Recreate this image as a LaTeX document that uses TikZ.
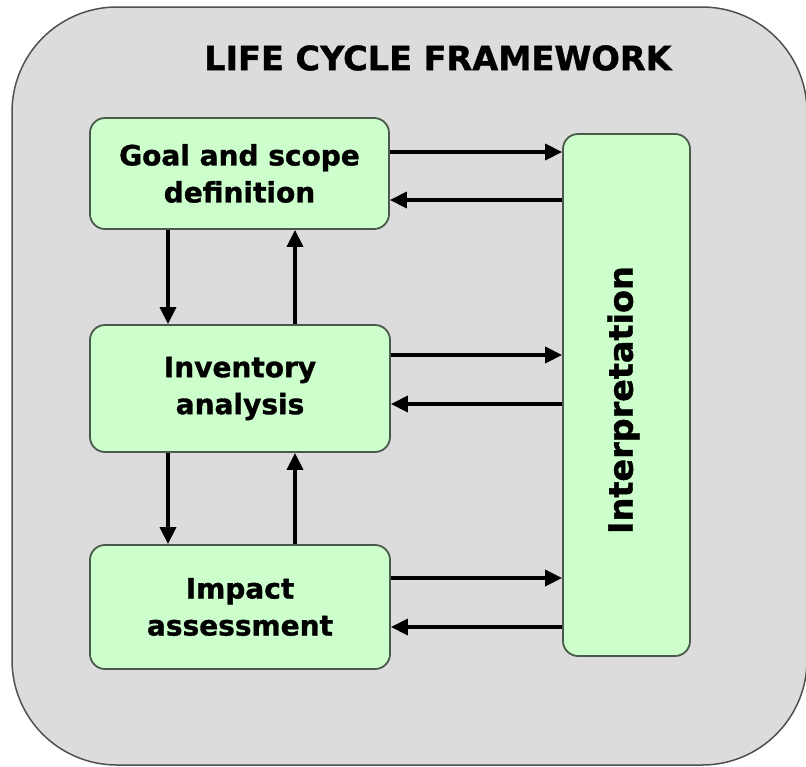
\documentclass[tikz,border=0pt]{standalone}
\usepackage{fontspec}
\setmainfont[BoldFeatures={FakeBold=1.2}]{DejaVu Sans}
\usetikzlibrary{arrows.meta}
\definecolor{bgray}{HTML}{DCDCDC}
\definecolor{lgreen}{HTML}{CCFFCC}
\definecolor{edgegreen}{HTML}{4A5A4A}
\definecolor{outeredge}{HTML}{505050}
\tikzset{
  stage/.style={draw=edgegreen, line width=1.8pt, fill=lgreen, rounded corners=15pt,
    align=center, font=\fontsize{28}{37}\selectfont\bfseries, inner sep=0pt},
  arr/.style={line width=3.5pt, -{Triangle[length=17pt,width=16pt]}, black},
}
\begin{document}
\begin{tikzpicture}[x=1pt,y=-1pt]
\useasboundingbox (0,0) rectangle (806,766);
\draw[outeredge, line width=1.5pt, fill=bgray, rounded corners=105pt] (12,7) rectangle (807,765);
\node[font=\fontsize{33.5}{40}\selectfont\bfseries] (title) at (438,58) {LIFE CYCLE FRAMEWORK};
\node[stage, minimum width=299pt, minimum height=111pt] (goal) at (239.5,173.5) {Goal and scope\\definition};
\node[stage, minimum width=300pt, minimum height=127pt] (inv) at (240,388.5) {Inventory\\analysis};
\node[stage, minimum width=300pt, minimum height=124pt] (imp) at (240,607) {Impact\\assessment};
\node[stage, minimum width=127pt, minimum height=522pt] (interp) at (626.5,395) {};
\node[font=\fontsize{33.5}{40}\selectfont\bfseries, rotate=90] (interplabel) at ([yshift=-5pt,xshift=-3pt]interp.center) {Interpretation};
% horizontal arrows
\draw[arr] (goal.east |- {(0,152)}) -- (interp.west |- {(0,152)});
\draw[arr] (interp.west |- {(0,200)}) -- (goal.east |- {(0,200)});
\draw[arr] (inv.east |- {(0,355)}) -- (interp.west |- {(0,355)});
\draw[arr] (interp.west |- {(0,404)}) -- (inv.east |- {(0,404)});
\draw[arr] (imp.east |- {(0,578)}) -- (interp.west |- {(0,578)});
\draw[arr] (interp.west |- {(0,627)}) -- (imp.east |- {(0,627)});
% vertical arrows
\draw[arr] (goal.south -| {(168,0)}) -- (inv.north -| {(168,0)});
\draw[arr] (inv.north -| {(295,0)}) -- (goal.south -| {(295,0)});
\draw[arr] (inv.south -| {(168,0)}) -- (imp.north -| {(168,0)});
\draw[arr] (imp.north -| {(295,0)}) -- (inv.south -| {(295,0)});
\end{tikzpicture}
\end{document}
